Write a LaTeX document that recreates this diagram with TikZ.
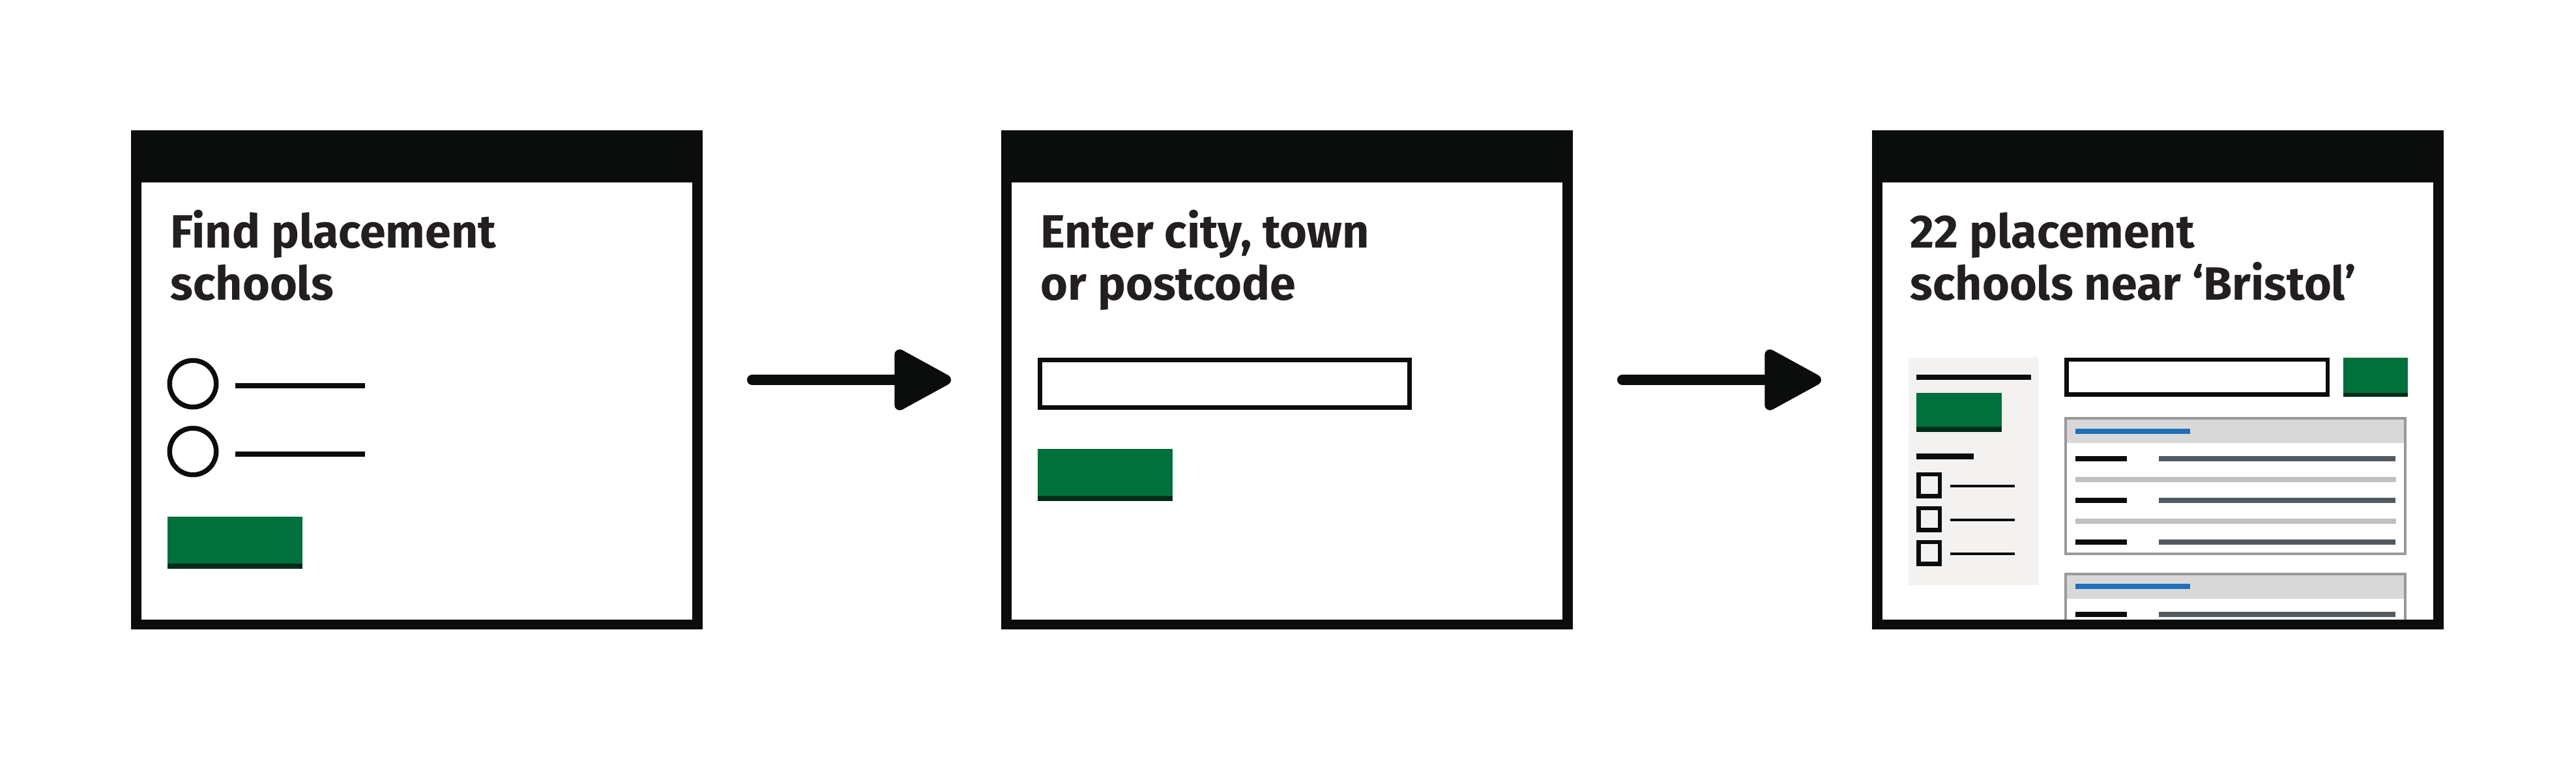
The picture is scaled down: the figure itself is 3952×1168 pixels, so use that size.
\documentclass[tikz,border=0pt]{standalone}
\usepackage{fontspec}
\setsansfont{Fira Sans}
\usetikzlibrary{arrows.meta}
\definecolor{ink}{HTML}{0B0C0C}
\definecolor{headtext}{HTML}{231F20}
\definecolor{govgreen}{HTML}{00703C}
\definecolor{govshadow}{HTML}{002D18}
\definecolor{linkblue}{HTML}{1F70B8}
\definecolor{midgrey}{HTML}{525A61}
\definecolor{rulegrey}{HTML}{BFC0C2}
\definecolor{cardgrey}{HTML}{999999}
\definecolor{bandgrey}{HTML}{D8D8D8}
\definecolor{panelgrey}{HTML}{F3F2F1}
\tikzset{
  page/.style={fill=ink, draw=none, inner sep=0pt, minimum width=8.77cm, minimum height=7.66cm},
  heading/.style={anchor=base west, inner sep=0pt, text=headtext,
    font=\sffamily\bfseries\fontsize{20.4}{24}\selectfont},
  flow/.style={line width=4.55pt, color=ink, line cap=round,
    -{Triangle[length=0.96cm, width=1cm, round]}},
}

\begin{document}
\begin{tikzpicture}[x=0.01cm, y=-0.01cm]
		%%%%% START %%%%%
		\useasboundingbox (0,0) rectangle (3952,1168);
		
		% page one: find placement schools
		\begin{scope}[shift={(201,200)}]
		\node[page] (find) at (438.5,383) {};
		\fill[white] (16,80) rectangle (861,751);
		\node[heading] (findA) at (60,181) {Find placement};
		\node[heading] (findB) at (60,261) {schools};
		
		\draw[line width=2.13pt, color=ink] (95,389) circle (35.75);
		\draw[line width=2.13pt, color=ink] (95,493) circle (35.75);
		\draw[line width=2pt, color=ink] (160,392) -- (359,392);
		\draw[line width=2pt, color=ink] (160,497) -- (359,497);
		
		\fill[govgreen] (56,593) rectangle (263,665);
		\fill[govshadow] (56,665) rectangle (263,673);
		\end{scope}
		
		% page two: enter location
		\begin{scope}[shift={(1536,200)}]
		\node[page] (enter) at (438.5,383) {};
		\fill[white] (16,80) rectangle (861,751);
		\node[heading] (enterA) at (60,181) {Enter city, town};
		\node[heading] (enterB) at (60,261) {or postcode};
		
		\draw[line width=2.13pt, color=ink] (59.4,352.5) rectangle (626.6,425.5);
		
		\fill[govgreen] (56,489) rectangle (263,561);
		\fill[govshadow] (56,561) rectangle (263,569);
		\end{scope}
		
		% page three: results
		\begin{scope}[shift={(2872,200)}]
		\node[page] (results) at (438.5,383) {};
		\fill[white] (16,80) rectangle (861,751);
		\node[heading] (resA) at (58,181) {22 placement};
		\node[heading] (resB) at (58,261) {schools near ‘Bristol’};
		
		\fill[panelgrey] (56,349) rectangle (255.5,698);
		\draw[line width=2.28pt, color=ink] (68,379) -- (243.6,379);
		\fill[govgreen] (68,403) rectangle (199,455);
		\fill[govshadow] (68,455) rectangle (199,463);
		\draw[line width=2.28pt, color=ink] (68,500.5) -- (155.5,500.5);
		
		\draw[line width=1.85pt, color=ink] (71.25,528.25) rectangle (103.75,561.75);
		\draw[line width=1.85pt, color=ink] (71.25,580.25) rectangle (103.75,613.75);
		\draw[line width=1.85pt, color=ink] (71.25,632.25) rectangle (103.75,665.75);
		\draw[line width=1.14pt, color=ink] (119.5,546) -- (219,546);
		\draw[line width=1.14pt, color=ink] (119.5,598) -- (219,598);
		\draw[line width=1.14pt, color=ink] (119.5,650) -- (219,650);
		
		\draw[line width=1.85pt, color=ink] (298.25,352.25) rectangle (698.75,405.75);
		\fill[govgreen] (723.3,349) rectangle (822,403);
		\fill[govshadow] (723.3,403) rectangle (822,409);
		
		\fill[bandgrey] (297,442) rectangle (817.7,480);
		\draw[line width=1.14pt, color=cardgrey] (297,442) rectangle (817.7,650);
		\draw[line width=2.28pt, color=linkblue] (312,462) -- (488,462);
		\draw[line width=2.28pt, color=ink] (312,504) -- (391,504);
		\draw[line width=2.28pt, color=midgrey] (440,504) -- (802.5,504);
		\draw[line width=2.28pt, color=rulegrey] (312,536) -- (803.7,536);
		\draw[line width=2.28pt, color=ink] (312,568) -- (391,568);
		\draw[line width=2.28pt, color=midgrey] (440,568) -- (802.5,568);
		\draw[line width=2.28pt, color=rulegrey] (312,600) -- (803.7,600);
		\draw[line width=2.28pt, color=ink] (312,632) -- (391,632);
		\draw[line width=2.28pt, color=midgrey] (440,632) -- (802.5,632);
		
		\begin{scope}
		\clip (16,80) rectangle (861,751);
		\fill[bandgrey] (297,681) rectangle (817.7,719);
		\draw[line width=1.14pt, color=cardgrey] (297,780) -- (297,681) -- (817.7,681) -- (817.7,780);
		\draw[line width=2.28pt, color=linkblue] (312,700) -- (488,700);
		\draw[line width=2.28pt, color=ink] (312,743) -- (391,743);
		\draw[line width=2.28pt, color=midgrey] (440,743) -- (802.5,743);
		\end{scope}
		\end{scope}
		
		% arrows between pages
		\draw[flow, shorten <=0.75cm, shorten >=0.76cm] (find.east) -- (enter.west);
		\draw[flow, shorten <=0.75cm, shorten >=0.77cm] (enter.east) -- (results.west);
		
		%%%%% END %%%%%
\end{tikzpicture}
\end{document}
